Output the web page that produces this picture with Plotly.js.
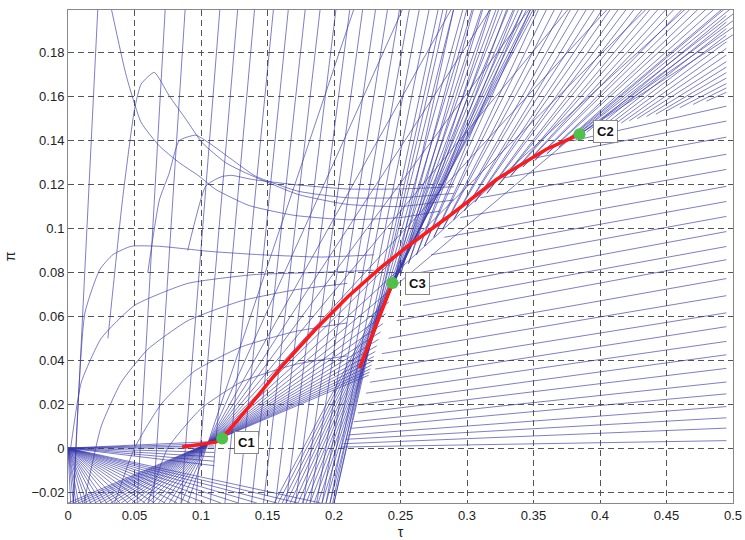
<!DOCTYPE html>
<html><head><meta charset="utf-8">
<script src="https://cdn.plot.ly/plotly-3.0.1.min.js"></script>
<style>body{margin:0;background:#fff}#chart{width:745px;height:540px}</style>
</head><body><div id="chart"></div>
<script>
// Steep straight lines: tau where each crosses pi=-0.025 (bottom) and pi=0.2 (top)
const steepBottom = [0.004,0.052,0.064,0.085,0.096,0.107,0.118,0.128,0.138,0.147,0.156,0.164,0.171,0.177,0.182,0.187,0.191,0.194,0.197,0.199,0.2,
  0.155,0.158,0.161,0.164,0.167,0.17,0.173,0.176,0.179,0.182,0.185,0.188,0.191,0.194,0.197,0.2];
const steepTop = [0.0224,0.0731,0.0881,0.1142,0.1276,0.1403,0.1545,0.1657,0.1784,0.1896,0.2015,0.2119,0.2216,0.2313,0.2403,0.2493,0.2567,0.2642,0.2716,0.2784,0.2851,
  0.352,0.35,0.348,0.345,0.342,0.339,0.335,0.331,0.327,0.322,0.317,0.311,0.304,0.297,0.29,0.282];

// Lines from the bottom edge through the C1 area: start tau at pi=-0.025, end point
const thruBottom = [0.0,0.004,0.008,0.012,0.016,0.02,0.024,0.028,0.032,0.036,0.04,0.044,0.048,
  0.052,0.056,0.06,0.064,0.068,0.072,0.076,0.08,0.085,0.09];
const thruEndTau = [0.2261,0.2268,0.2275,0.2283,0.2291,0.230,0.2311,0.2322,0.2335,0.2351,0.2368,0.2388,0.2412,
  0.4937,0.4643,0.435,0.4057,0.3763,0.347,0.3177,0.2883,0.2517,0.215];
const thruEndPi  = [0.0332,0.0346,0.0361,0.0378,0.0397,0.0417,0.044,0.0466,0.0495,0.0529,0.0567,0.0612,0.0665,
  0.2,0.2,0.2,0.2,0.2,0.2,0.2,0.2,0.2,0.2];

// Half-lines leaving the band (C3 to C2) upward: start point and tau at the top edge
const upStartTau = [0.245,0.245,0.25,0.25,0.256,0.256,0.262,0.262,0.268,0.268,0.275,0.275,0.282,0.282,0.29,0.29,0.298,0.298,0.306,0.306,0.315,0.315,0.324,0.324,0.333,0.333,0.342,0.342,0.351,0.351,0.36,0.36,0.369,0.369,0.377,0.377,0.385,0.385,0.385];
const upStartPi  = [0.075,0.075,0.079,0.079,0.084,0.084,0.088,0.088,0.092,0.092,0.096,0.096,0.1,0.1,0.104,0.104,0.108,0.108,0.112,0.112,0.116,0.116,0.12,0.12,0.124,0.124,0.128,0.128,0.131,0.131,0.134,0.134,0.137,0.137,0.14,0.14,0.143,0.143,0.143];
const upTopTau   = [0.29,0.30,0.305,0.312,0.318,0.324,0.33,0.336,0.342,0.348,0.354,0.36,0.366,0.372,0.378,0.384,0.39,0.396,0.402,0.408,0.414,0.42,0.426,0.432,0.438,0.444,0.45,0.456,0.462,0.468,0.474,0.48,0.486,0.492,0.498,0.505,0.512,0.52,0.53];

// Rays to the right edge: start point and pi at tau = 0.495
const rayStartTau = [0.205,0.207,0.209,0.211,0.213,0.215,0.218,0.221,0.224,0.227,0.231,0.236,0.241,0.247,0.252,0.258,0.265,0.273,0.283,0.295,0.31,0.327,0.35,0.38,
  0.39,0.395,0.40,0.405,0.41,0.416,0.422,0.428,0.435,0.442,0.45,0.46,0.47,0.48];
const rayStartPi = [0.0005,0.002,0.004,0.006,0.009,0.012,0.016,0.02,0.025,0.03,0.036,0.043,0.05,0.058,0.065,0.072,0.08,0.088,0.096,0.105,0.114,0.123,0.132,0.14,
  0.1438,0.1447,0.1455,0.1463,0.147,0.148,0.149,0.150,0.151,0.152,0.1535,0.155,0.1565,0.158];
const rayEndPi = [0.0034,0.0091,0.0138,0.0189,0.0247,0.0301,0.0363,0.0425,0.0486,0.0553,0.0616,0.0694,0.0772,0.0858,0.0918,0.0986,0.1055,0.1123,0.1192,0.1269,0.1338,0.1416,0.1489,0.1557,
  0.197,0.194,0.191,0.188,0.185,0.182,0.179,0.176,0.1735,0.171,0.1685,0.166,0.164,0.162];

// Fan of lines leaving the origin: tau where each reaches pi=-0.025
const fanBottom = [0.002,0.004,0.006,0.008,0.011,0.014,0.017,0.021,0.025,0.029,0.034,0.039,0.045,0.051,0.058,0.065,0.073,0.082,0.092,0.103,0.115,0.128,0.142,0.157,0.173,0.19];
// near-flat lines leaving the origin: pi reached at tau = 0.11
const flatEndPi = [-0.008,-0.006,-0.004,-0.002,0.0,0.001,0.002,0.003];

// Curved lines
const curve1Tau = [0.0326,0.0438,0.055,0.0687,0.0836,0.0985,0.111,0.136,0.17,0.21,0.25,0.28];
const curve1Pi  = [0.2,0.1696,0.1483,0.1376,0.13,0.1239,0.1178,0.1105,0.106,0.104,0.105,0.108];
const curve2Tau = [0.03,0.041,0.05,0.055,0.0649,0.0761,0.0886,0.101,0.1184,0.1333,0.173,0.21,0.25,0.29];
const curve2Pi  = [0.05,0.1132,0.1543,0.1658,0.1711,0.1604,0.1498,0.139,0.13,0.1254,0.1155,0.111,0.11,0.113];
const curve3Tau = [0.06,0.0687,0.076,0.0836,0.096,0.106,0.123,0.1408,0.173,0.21,0.25,0.29];
const curve3Pi  = [0.08,0.113,0.125,0.14,0.1425,0.139,0.1315,0.1239,0.117,0.114,0.114,0.116];
const curve4Tau = [0.09,0.1035,0.111,0.116,0.123,0.138,0.17,0.21,0.25,0.29];
const curve4Pi  = [0.09,0.1193,0.1224,0.1237,0.1242,0.1224,0.12,0.118,0.118,0.119];
const curve5Tau = [0.004,0.0127,0.0239,0.0338,0.0475,0.0687,0.106,0.1433,0.19,0.23];
const curve5Pi  = [-0.025,0.0615,0.0813,0.0881,0.0919,0.0919,0.0896,0.0881,0.087,0.088];
const arc1Tau = [0.012,0.025,0.04,0.06,0.09,0.13,0.17,0.21];
const arc1Pi  = [-0.025,0.01,0.03,0.045,0.058,0.067,0.072,0.075];
const arc2Tau = [0.035,0.05,0.07,0.095,0.13,0.17,0.21];
const arc2Pi  = [-0.025,0.0,0.02,0.035,0.046,0.053,0.057];
const arc3Tau = [0.002,0.01,0.025,0.05,0.09,0.14,0.19,0.23];
const arc3Pi  = [0.0,0.03,0.05,0.065,0.075,0.079,0.08,0.081];
const arc4Tau = [0.06,0.075,0.1,0.13,0.17,0.21];
const arc4Pi  = [-0.025,0.0,0.018,0.03,0.038,0.042];

// Red paths and labelled points
const red1Tau = [0.0858,0.111,0.1159,0.1358,0.1604,0.1858,0.2104,0.2351,0.2552,0.2851,0.3224,0.3597,0.3846];
const red1Pi  = [0.0005,0.0027,0.0044,0.0187,0.037,0.0539,0.0689,0.0822,0.0918,0.105,0.1224,0.1361,0.1429];
const red2Tau = [0.2192,0.244];
const red2Pi  = [0.0364,0.0752];
const ptNames = ['C1','C2','C3'];
const ptTau = [0.1159,0.3846,0.244];
const ptPi  = [0.0044,0.1429,0.0752];

const xTicks = [0,0.05,0.1,0.15,0.2,0.25,0.3,0.35,0.4,0.45,0.5];
const xTickText = ['0','0.05','0.1','0.15','0.2','0.25','0.3','0.35','0.4','0.45','0.5'];

const PMIN = -0.025, PMAX = 0.2;
function seg(xs0, ys0, xs1, ys1){
  const x=[], y=[];
  for(let i=0;i<xs0.length;i++){ x.push(xs0[i], xs1[i], null); y.push(ys0[i], ys1[i], null); }
  return {x, y};
}
const steep = seg(steepBottom, steepBottom.map(()=>PMIN), steepTop, steepTop.map(()=>PMAX));
const thru = seg(thruBottom, thruBottom.map(()=>PMIN), thruEndTau, thruEndPi);
const up = seg(upStartTau, upStartPi, upTopTau, upTopTau.map(()=>PMAX));
const rays = seg(rayStartTau, rayStartPi, rayStartTau.map(()=>0.495), rayEndPi);
const fan = seg(fanBottom.map(()=>0), fanBottom.map(()=>0), fanBottom, fanBottom.map(()=>PMIN));
const flat = seg(flatEndPi.map(()=>0), flatEndPi.map(()=>0), flatEndPi.map(()=>0.11), flatEndPi);
const curves = {x:[], y:[]};
[[curve1Tau,curve1Pi],[curve2Tau,curve2Pi],[curve3Tau,curve3Pi],[curve4Tau,curve4Pi],[curve5Tau,curve5Pi],
 [arc1Tau,arc1Pi],[arc2Tau,arc2Pi],[arc3Tau,arc3Pi],[arc4Tau,arc4Pi]].forEach(([a,b])=>{
  curves.x.push(...a, null); curves.y.push(...b, null);
});

const blue = {color:'rgba(55,55,170,0.72)', width:0.9};
const traces = [steep, thru, up, rays, fan, flat].map(d=>({
  type:'scatter', mode:'lines', x:d.x, y:d.y, line:blue, hoverinfo:'skip', connectgaps:false
}));
traces.push({type:'scatter', mode:'lines', x:curves.x, y:curves.y, line:Object.assign({}, blue, {shape:'spline', smoothing:0.5}), hoverinfo:'skip', connectgaps:false});
traces.push({type:'scatter', mode:'lines', x:red1Tau, y:red1Pi, line:{color:'#ff1a1a', width:3.5}});
traces.push({type:'scatter', mode:'lines', x:red2Tau, y:red2Pi, line:{color:'#ff1a1a', width:3.5}});
traces.push({type:'scatter', mode:'markers', x:ptTau, y:ptPi, marker:{color:'#4fc04a', size:12}});

const shifts = {C1:[12,-4], C2:[13,3], C3:[12,-1]};
const annotations = ptNames.map((n,i)=>({
  x: ptTau[i], y: ptPi[i], text: n, showarrow:false, xanchor:'left', yanchor:'middle',
  xshift: shifts[n][0], yshift: shifts[n][1],
  font:{family:'Liberation Sans, Arial, sans-serif', size:13, color:'#111', weight:'bold'},
  bgcolor:'#fff', bordercolor:'#888', borderwidth:1, borderpad:3
}));

const axisCommon = {
  showgrid:true, gridcolor:'#555', griddash:'6px,4px', gridwidth:1,
  zeroline:false, showline:true, mirror:true, linecolor:'#888', linewidth:1,
  ticks:'', ticklabeloverflow:'allow',
  tickfont:{family:'Liberation Sans, Arial, sans-serif', size:13, color:'#222'}
};
const layout = {
  width:745, height:540, showlegend:false,
  margin:{l:68, r:12, t:10, b:37},
  paper_bgcolor:'#fff', plot_bgcolor:'#fff',
  xaxis: Object.assign({}, axisCommon, {range:[0,0.5], tickmode:'array', tickvals:xTicks, ticktext:xTickText,
    title:{text:'τ', standoff:5, font:{family:'Liberation Sans, Arial, sans-serif', size:14, color:'#222'}}}),
  yaxis: Object.assign({}, axisCommon, {range:[PMIN,0.1995], tick0:0, dtick:0.02,
    title:{text:'π', standoff:12, font:{family:'Liberation Sans, Arial, sans-serif', size:14, color:'#222'}}}),
  annotations
};
Plotly.newPlot('chart', traces, layout, {displayModeBar:false, staticPlot:true});
</script></body></html>
